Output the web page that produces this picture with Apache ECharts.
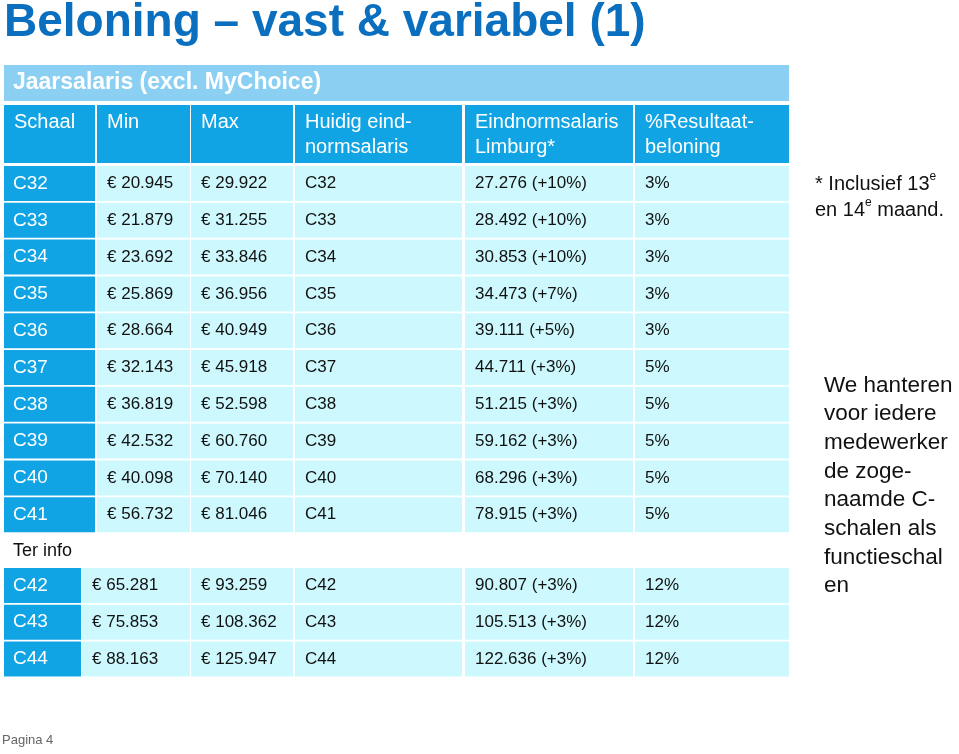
<!DOCTYPE html>
<html><head><meta charset="utf-8">
<script src="https://cdn.jsdelivr.net/npm/echarts@6/dist/echarts.min.js"></script>
<style>html,body{margin:0;padding:0;background:#fff}#c{width:959px;height:754px}</style>
</head><body><div id="c"></div>
<script>
// ---- data ----
const schaal = ['C32','C33','C34','C35','C36','C37','C38','C39','C40','C41','C42','C43','C44'];
const minSal = [20945,21879,23692,25869,28664,32143,36819,42532,40098,56732,65281,75853,88163];
const maxSal = [29922,31255,33846,36956,40949,45918,52598,60760,70140,81046,93259,108362,125947];
const huidig = ['C32','C33','C34','C35','C36','C37','C38','C39','C40','C41','C42','C43','C44'];
const eindLimburg = [27276,28492,30853,34473,39111,44711,51215,59162,68296,78915,90807,105513,122636];
const eindPct = [10,10,10,7,5,3,3,3,3,3,3,3,3];
const resultaat = [3,3,3,3,3,5,5,5,5,5,12,12,12];
const headerTitle = 'Jaarsalaris (excl. MyChoice)';
const headers = ['Schaal','Min','Max','Huidig eind-\nnormsalaris','Eindnormsalaris\nLimburg*','%Resultaat-\nbeloning'];

// ---- layout ----
const colLeft = [0, 93, 187, 291, 461, 631];
const colRight = [91, 186, 289, 458, 629, 785];
const FONT = "'Liberation Sans', Arial, sans-serif";
const C_LIGHT = '#8bd0f3', C_BLUE = '#10a4e4', C_PALE = '#cdf9fe';

function fmt(n){ return Math.floor(n/1000) + '.' + String(n%1000).padStart(3,'0'); }
function cellText(r,c){
  switch(c){
    case 0: return schaal[r];
    case 1: return '€ ' + fmt(minSal[r]);
    case 2: return '€ ' + fmt(maxSal[r]);
    case 3: return huidig[r];
    case 4: return fmt(eindLimburg[r]) + ' (+' + eindPct[r] + '%)';
    case 5: return resultaat[r] + '%';
  }
}
function cellBox(r,c){
  const b = r >= 10;
  const x0 = (b && c===1) ? 78 : colLeft[c];
  const x1 = (b && c===0) ? 77 : colRight[c];
  const y0 = b ? 503 + 36.7*(r-10) : 101 + 36.8*r;
  return [x0, y0, x1, y0 + 35];
}

const bodyData = [];
schaal.forEach((s,r)=>{ for(let c=0;c<6;c++) bodyData.push([c,r]); });
const headData = headers.map((h,c)=>[c,1]).concat([[-1,0]]);

const chart = echarts.init(document.getElementById('c'));
chart.setOption({
  animation:false,
  grid:{left:4, top:65, width:786, height:613},
  xAxis:{type:'value', min:0, max:786, show:false},
  yAxis:{type:'value', min:0, max:613, inverse:true, show:false},
  graphic:[
    {type:'text', left:4, top:0, style:{text:'Beloning – vast & variabel (1)', font:'bold 46px '+FONT, fill:'#0b6fbf'}},
    {type:'text', left:815, top:171, style:{
      text:'{a|* Inclusief 13}{s|e}\n{a|en 14}{s|e}{a| maand.}',
      rich:{a:{font:'20px '+FONT, fill:'#111', lineHeight:26}, s:{font:'12px '+FONT, fill:'#111', verticalAlign:'top', lineHeight:26, padding:[0,0,10,0]}}
    }},
    {type:'text', left:824, top:371, style:{text:'We hanteren\nvoor iedere\nmedewerker\nde zoge-\nnaamde C-\nschalen als\nfunctieschal\nen', font:'22.5px '+FONT, fill:'#111', lineHeight:28.7}},
    {type:'text', left:13, top:542, style:{text:'Ter info', font:'18px '+FONT, fill:'#111'}},
    {type:'text', left:2, top:734, style:{text:'Pagina 4', font:'13px '+FONT, fill:'#666'}}
  ],
  series:[
    {
      type:'custom', clip:false, data:headData,
      renderItem:function(params, api){
        const c = api.value(0);
        let x0,x1,y0,y1,fill,txt,font;
        if(c < 0){ x0=0; x1=785; y0=0; y1=36; fill=C_LIGHT; txt=headerTitle; font='bold 23px '+FONT; }
        else { x0=colLeft[c]; x1=colRight[c]; y0=40; y1=98; fill=C_BLUE; txt=headers[c]; font='20px '+FONT; }
        const p0 = api.coord([x0,y0]), p1 = api.coord([x1,y1]);
        const isTop = c < 0;
        return {type:'group', children:[
          {type:'rect', shape:{x:p0[0], y:p0[1], width:p1[0]-p0[0], height:p1[1]-p0[1]}, style:{fill:fill}},
          {type:'text', style:{text:txt, x:p0[0]+(isTop?9:10), y: isTop ? (p0[1]+p1[1])/2 : p0[1]+4.5,
            verticalAlign: isTop ? 'middle' : 'top', font:font, fill:'#fff', lineHeight:25}}
        ]};
      }
    },
    {
      type:'custom', clip:false, data:bodyData,
      renderItem:function(params, api){
        const c = api.value(0), r = api.value(1);
        const b = cellBox(r,c);
        const p0 = api.coord([b[0],b[1]]), p1 = api.coord([b[2],b[3]]);
        const first = c === 0;
        return {type:'group', children:[
          {type:'rect', shape:{x:p0[0], y:p0[1], width:p1[0]-p0[0], height:p1[1]-p0[1]}, style:{fill: first ? C_BLUE : C_PALE}},
          {type:'text', style:{text:cellText(r,c), x:p0[0]+(first?9:10), y:(p0[1]+p1[1])/2, verticalAlign:'middle',
            font: first ? '19px '+FONT : '17px '+FONT, fill: first ? '#fff' : '#111'}}
        ]};
      }
    }
  ]
});
</script>
</body></html>
